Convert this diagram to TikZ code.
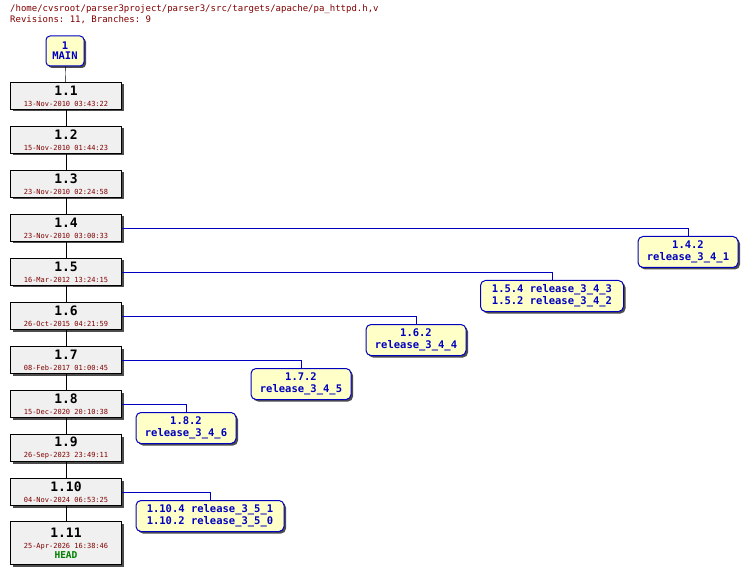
\documentclass[tikz,border=0pt]{standalone}
\usepackage{fontspec}
\setmonofont{DejaVu Sans Mono}
\usetikzlibrary{shadows}
\definecolor{darkred}{HTML}{800000}
\definecolor{revfill}{HTML}{F0F0F0}
\definecolor{tagfill}{HTML}{FFFFC8}
\definecolor{tagblue}{HTML}{0000C0}
\definecolor{headgreen}{HTML}{008000}
\tikzset{
  rev/.style={draw=black, fill=revfill, minimum width=111pt, minimum height=27pt,
    inner sep=0pt, align=center, drop shadow={shadow xshift=2pt, shadow yshift=-2pt, fill=black!70, opacity=1}},
  tag/.style={draw=tagblue, line width=1pt, fill=tagfill, rounded corners=5pt, minimum height=31pt,
    inner xsep=4pt, inner ysep=0pt, align=center, text=tagblue, font=\ttfamily\bfseries\fontsize{10.5}{12}\selectfont,
    drop shadow={shadow xshift=2pt, shadow yshift=-2pt, fill=black!70, opacity=1}},
  trunk/.style={draw=black},
  branch/.style={draw=tagblue}
}
\newcommand{\revtxt}[2]{{\ttfamily\bfseries\fontsize{13}{13}\selectfont #1}\\[-1pt]{\ttfamily\fontsize{7}{8}\selectfont\color{darkred}#2}}
\begin{document}
\begin{tikzpicture}[x=1pt,y=-1pt]
\useasboundingbox (0,0) rectangle (748,575);
\node[anchor=north west, align=left, inner sep=0pt, text=darkred, font=\ttfamily\fontsize{9}{11}\selectfont]
  (title) at (10,4) {/home/cvsroot/parser3project/parser3/src/targets/apache/pa\_httpd.h,v\\Revisions: 11, Branches: 9};

\node[tag, minimum width=38pt, minimum height=30pt, rounded corners=4pt] (main) at (65,51) {1\\[-2pt]MAIN};
\node[rev] (r1) at (66,96) {\revtxt{1.1}{13-Nov-2010 03:43:22}};
\node[rev] (r2) at (66,140) {\revtxt{1.2}{15-Nov-2010 01:44:23}};
\node[rev] (r3) at (66,184) {\revtxt{1.3}{23-Nov-2010 02:24:58}};
\node[rev] (r4) at (66,228) {\revtxt{1.4}{23-Nov-2010 03:00:33}};
\node[rev] (r5) at (66,272) {\revtxt{1.5}{16-Mar-2012 13:24:15}};
\node[rev] (r6) at (66,316) {\revtxt{1.6}{26-Oct-2015 04:21:59}};
\node[rev] (r7) at (66,360) {\revtxt{1.7}{08-Feb-2017 01:00:45}};
\node[rev] (r8) at (66,404) {\revtxt{1.8}{15-Dec-2020 20:10:38}};
\node[rev] (r9) at (66,448) {\revtxt{1.9}{26-Sep-2023 23:49:11}};
\node[rev] (r10) at (66,492) {\revtxt{1.10}{04-Nov-2024 06:53:25}};
\node[rev, minimum height=43pt] (r11) at (66,543) {\revtxt{1.11}{25-Apr-2026 16:38:46}\\[-2pt]{\ttfamily\bfseries\fontsize{9.5}{10}\selectfont\color{headgreen}HEAD}};

\node[tag, minimum width=100pt] (b4) at (688,252) {1.4.2\\release\_3\_4\_1};
\node[tag, minimum width=143pt] (b5) at (552,296) {1.5.4 release\_3\_4\_3\\1.5.2 release\_3\_4\_2};
\node[tag, minimum width=100pt] (b6) at (416,340) {1.6.2\\release\_3\_4\_4};
\node[tag, minimum width=100pt] (b7) at (301,384) {1.7.2\\release\_3\_4\_5};
\node[tag, minimum width=100pt] (b8) at (186,428) {1.8.2\\release\_3\_4\_6};
\node[tag, minimum width=148pt] (b10) at (210,516) {1.10.4 release\_3\_5\_1\\1.10.2 release\_3\_5\_0};

\draw[trunk] (main) -- (r1);
\foreach \a/\b in {1/2,2/3,3/4,4/5,5/6,6/7,7/8,8/9,9/10,10/11}
  \draw[trunk] (r\a) -- (r\b);
\foreach \a in {4,5,6,7,8,10}
  \draw[branch] (r\a) -| (b\a);
\end{tikzpicture}
\end{document}
